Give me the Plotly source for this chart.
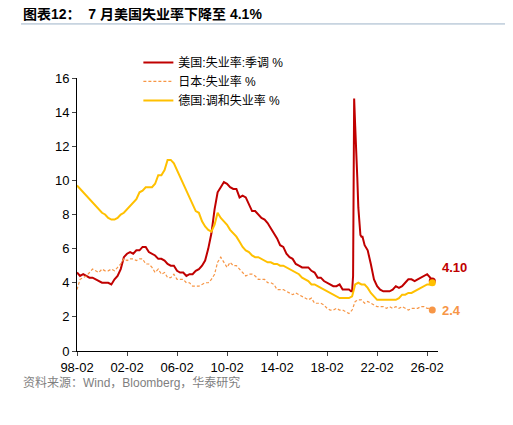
import plotly.graph_objects as go
import pandas as pd

years = list(range(1998, 2027))
q_months = [2, 5, 8, 11]

us_q = [4.6,4.4,4.5,4.4, 4.3,4.3,4.2,4.1, 4.0,4.0,4.0,3.9, 4.2,4.4,4.8,5.5,
        5.7,5.8,5.7,5.9, 5.9,6.1,6.1,5.8, 5.7,5.6,5.4,5.4, 5.3,5.1,5.0,5.0,
        4.7,4.6,4.6,4.4, 4.5,4.5,4.7,4.8, 5.0,5.3,6.0,6.9, 8.3,9.3,9.6,9.9,
        9.8,9.6,9.5,9.5, 9.0,9.1,9.0,8.6, 8.2,8.2,8.0,7.8, 7.7,7.5,7.2,6.9,
        6.6,6.2,6.1,5.7, 5.5,5.4,5.1,5.0, 4.9,4.9,4.9,4.7, 4.6,4.3,4.3,4.1,
        4.0,3.9,3.8,3.8, 3.9,3.6,3.6,3.6, None,None,None,None, 6.2,5.9,5.1,4.2,
        3.8,3.6,3.5,3.5, 3.5,3.6,3.8,3.7, 3.8,4.0,4.2,4.2, 4.1,4.2,4.3,4.4,
        4.5,4.3,4.1]
us_2020_monthly = [3.5,3.5,4.4,14.8,13.2,11.0,10.2,8.4,7.8,6.8,6.7,6.7]

jp_q = [3.6,4.2,4.3,4.4, 4.6,4.8,4.7,4.6, 4.8,4.7,4.7,4.8, 4.7,4.9,5.1,5.4,
        5.3,5.4,5.4,5.3, 5.4,5.4,5.1,5.1, 4.9,4.6,4.8,4.5, 4.6,4.3,4.3,4.5,
        4.2,4.2,4.2,4.0, 4.0,3.8,3.8,3.8, 3.9,4.0,4.0,4.2, 4.5,5.2,5.5,5.2,
        4.9,5.2,5.0,5.0, 4.8,4.6,4.4,4.5, 4.5,4.4,4.2,4.2, 4.2,4.0,4.0,3.9,
        3.6,3.6,3.6,3.5, 3.4,3.3,3.4,3.3, 3.2,3.1,3.0,3.1, 2.8,2.8,2.8,2.7,
        2.5,2.4,2.4,2.5, 2.4,2.4,2.3,2.2, 2.4,2.9,3.0,3.0, 2.8,2.9,2.8,2.7,
        2.6,2.6,2.6,2.5, 2.6,2.5,2.6,2.5, 2.6,2.5,2.4,2.5, 2.5,2.5,2.6,2.6,
        2.5,2.5,2.4]

de_q = [9.7,9.5,9.3,9.1, 8.9,8.7,8.5,8.3, 8.1,8.0,7.8,7.7, 7.7,7.8,8.0,8.1,
        8.3,8.5,8.7,8.9, 9.3,9.4,9.6,9.6, 9.6,9.8,10.3,10.3, 10.6,11.2,11.2,11.0,
        10.6,10.2,9.8,9.4, 9.0,8.6,8.2,8.1, 7.6,7.3,7.1,7.0, 7.4,8.1,7.8,7.6,
        7.4,7.1,6.9,6.7, 6.4,6.1,5.9,5.8, 5.6,5.5,5.5,5.4, 5.3,5.2,5.2,5.1,
        5.1,5.0,5.0,4.9, 4.8,4.7,4.6,4.5, 4.3,4.2,4.1,3.9, 3.9,3.8,3.7,3.6,
        3.5,3.4,3.3,3.2, 3.1,3.1,3.1,3.1, 3.2,3.9,4.0,3.9, 3.9,3.7,3.4,3.2,
        3.0,3.0,3.0,3.0, 3.0,3.0,3.0,3.1, 3.3,3.3,3.4,3.4, 3.5,3.6,3.7,3.8,
        3.9,3.9,4.0]

dates_q = []
for y in years:
    for m in q_months:
        dates_q.append(pd.Timestamp(y, m, 1))
dates_q = dates_q[:len(jp_q)]
dates_q[-1] = pd.Timestamp(2026, 7, 1)

us_x, us_y = [], []
for d, v in zip(dates_q, us_q):
    if d.year == 2020:
        continue
    us_x.append(d); us_y.append(v)
    if d == pd.Timestamp(2019, 11, 1):
        for i, mv in enumerate(us_2020_monthly):
            us_x.append(pd.Timestamp(2020, i + 1, 1)); us_y.append(mv)

RED, ORG, YEL = "#C00000", "#F79646", "#FFC000"
fig = go.Figure()
fig.add_trace(go.Scatter(x=us_x, y=us_y, mode="lines", name="美国:失业率:季调 %",
                         line=dict(color=RED, width=2)))
fig.add_trace(go.Scatter(x=dates_q, y=jp_q, mode="lines", name="日本:失业率 %",
                         line=dict(color=ORG, width=1.2, dash="3px,2px")))
fig.add_trace(go.Scatter(x=dates_q, y=de_q, mode="lines", name="德国:调和失业率 %",
                         line=dict(color=YEL, width=2)))
ends = [(us_x[-1], us_y[-1], RED, "4.10", 4.9), (dates_q[-1], jp_q[-1], ORG, "2.4", 2.4),
        (dates_q[-1], de_q[-1], YEL, None, None)]
for x, y, c, t, ty in ends:
    fig.add_trace(go.Scatter(x=[x], y=[y], mode="markers", marker=dict(color=c, size=7),
                             showlegend=False, hoverinfo="skip"))
    if t:
        fig.add_annotation(x=x, y=ty, text=f"<b>{t}</b>", showarrow=False, xanchor="left",
                           xshift=8, font=dict(color=c, size=13))

fig.update_layout(
    width=513, height=425, plot_bgcolor="white", paper_bgcolor="white",
    margin=dict(l=69, r=83, t=70, b=82),
    font=dict(family="Liberation Sans, Noto Sans CJK SC", size=12, color="black"),
    legend=dict(x=0.17, y=1.11, xanchor="left", yanchor="top", bgcolor="rgba(0,0,0,0)",
                font=dict(size=12), tracegroupgap=0),
    xaxis=dict(range=["1998-02-01", "2026-12-15"], tickformat="%y-%m", dtick="M48",
               tick0="1998-02-01", showline=True, linecolor="black", ticks="outside",
               ticklen=4, showgrid=False, tickfont=dict(size=13)),
    yaxis=dict(range=[0, 16], dtick=2, showline=True, linecolor="black", ticks="outside",
               ticklen=4, showgrid=False, zeroline=False, tickfont=dict(size=13)),
)
fig.add_annotation(xref="paper", yref="paper", x=-0.155, y=1.235, xanchor="left", yanchor="middle",
                   text="<b>图表12：  7 月美国失业率下降至 4.1%</b>", showarrow=False,
                   font=dict(size=14, color="black"))
fig.add_shape(type="line", xref="paper", yref="paper", x0=-0.155, x1=1.2, y0=1.198, y1=1.198,
              line=dict(color="#9DB3C8", width=1))
fig.add_annotation(xref="paper", yref="paper", x=-0.155, y=-0.117, xanchor="left", yanchor="middle",
                   text="资料来源：Wind，Bloomberg，华泰研究", showarrow=False,
                   font=dict(size=12, color="#7f7f7f"))
fig.write_html("out.html")
